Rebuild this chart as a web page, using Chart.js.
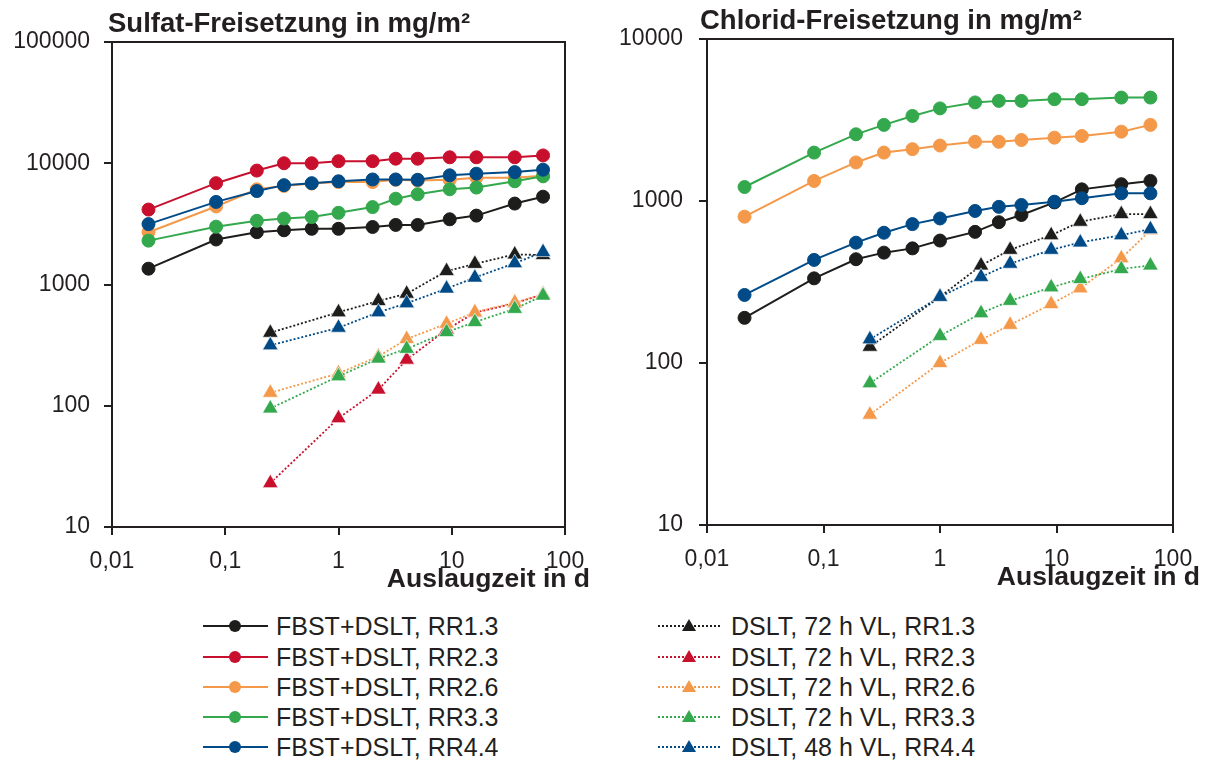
<!DOCTYPE html>
<html>
<head>
<meta charset="utf-8">
<script src="https://cdn.jsdelivr.net/npm/chart.js@4.4.1/dist/chart.umd.min.js"></script>
<style>
    body { margin: 0; background: #fff; font-family: "Liberation Sans", Arial, sans-serif; color: #231f20; }
    #page { position: relative; width: 1209px; height: 760px; overflow: hidden; }
    canvas { position: absolute; top: 0; }
    .title { position: absolute; font-weight: bold; font-size: 27.5px; line-height: 1; white-space: nowrap; }
    .xtitle { position: absolute; font-weight: bold; font-size: 26.5px; line-height: 1; white-space: nowrap; text-align: right; }
    .leg { position: absolute; height: 24px; }
    .leg .line { position: absolute; top: 11px; height: 0; }
    .leg .dot { position: absolute; top: 6px; width: 12px; height: 12px; border-radius: 50%; }
    .leg .tri { position: absolute; top: 5px; width: 0; height: 0; border-left: 7px solid transparent; border-right: 7px solid transparent; }
    .leg .txt { position: absolute; top: 0; font-size: 25px; line-height: 24px; white-space: nowrap; }
</style>
</head>
<body>
<div id="page">
    <canvas id="sulfat" width="600" height="600" style="left:0"></canvas>
    <canvas id="chlorid" width="609" height="600" style="left:600px"></canvas>
    <div class="title" style="left:108px;top:9px">Sulfat-Freisetzung in mg/m²</div>
    <div class="title" style="left:700px;top:6px">Chlorid-Freisetzung in mg/m²</div>
    <div class="xtitle" style="right:619px;top:565px">Auslaugzeit in d</div>
    <div class="xtitle" style="right:9px;top:563px">Auslaugzeit in d</div>
    <div id="legend"></div>
</div>
<script>
// time axis (days)
const tFbst = [0.021, 0.083, 0.19, 0.33, 0.58, 1, 2, 3.2, 5, 9.6, 16.5, 36, 64];
const tDslt = [0.25, 1, 2.25, 4, 9, 16, 36, 64];

const xTicks = [0.01, 0.1, 1, 10, 100];
const ySulfatTicks = [10, 100, 1000, 10000, 100000];
const yChloridTicks = [10, 100, 1000, 10000];

const labelsFbst = ['FBST+DSLT, RR1.3', 'FBST+DSLT, RR2.3', 'FBST+DSLT, RR2.6', 'FBST+DSLT, RR3.3', 'FBST+DSLT, RR4.4'];
const labelsDslt = ['DSLT, 72 h VL, RR1.3', 'DSLT, 72 h VL, RR2.3', 'DSLT, 72 h VL, RR2.6', 'DSLT, 72 h VL, RR3.3', 'DSLT, 48 h VL, RR4.4'];
const colors = ['#1d1d1b', '#c8102e', '#f4994a', '#33a84d', '#004b87'];

// Sulfat, mg/m²
const sulfatFbst13 = [1350, 2350, 2700, 2800, 2880, 2880, 2980, 3100, 3100, 3450, 3700, 4650, 5300];
const sulfatFbst23 = [4150, 6850, 8700, 10000, 10000, 10400, 10400, 10900, 10900, 11200, 11200, 11200, 11600];
const sulfatFbst26 = [2700, 4400, 6100, 6500, 6800, 7000, 7000, 7300, 7200, 7300, 7600, 7600, 7900];
const sulfatFbst33 = [2300, 3000, 3350, 3500, 3600, 3900, 4350, 5100, 5550, 6100, 6300, 7100, 7800];
const sulfatFbst44 = [3150, 4800, 5900, 6600, 6850, 7100, 7350, 7350, 7300, 7950, 8200, 8450, 8850];
const sulfatDslt13 = [400, 590, 730, 840, 1290, 1480, 1770, 1750];
const sulfatDslt23 = [23, 79, 136, 240, 425, 585, 700, 830];
const sulfatDslt26 = [128, 185, 255, 355, 475, 590, 710, 825];
const sulfatDslt33 = [95, 175, 245, 295, 405, 490, 630, 810];
const sulfatDslt44 = [315, 440, 590, 700, 925, 1140, 1500, 1850];

// Chlorid, mg/m²
const chloridFbst13 = [190, 333, 437, 480, 510, 570, 645, 740, 820, 980, 1180, 1270, 1330];
const chloridFbst26 = [800, 1330, 1730, 1990, 2090, 2200, 2320, 2320, 2380, 2460, 2520, 2680, 2950];
const chloridFbst33 = [1220, 1990, 2580, 2950, 3350, 3730, 4060, 4150, 4150, 4250, 4250, 4350, 4350];
const chloridFbst44 = [263, 433, 553, 637, 720, 780, 868, 920, 945, 990, 1040, 1115, 1115];
const chloridDslt13 = [126, 256, 400, 500, 615, 745, 830, 830];
const chloridDslt26 = [48, 100, 139, 172, 231, 289, 443, 660];
const chloridDslt33 = [75, 147, 203, 242, 293, 330, 380, 400];
const chloridDslt44 = [140, 256, 340, 410, 500, 555, 615, 670];

const ink = '#231f20';
Chart.defaults.font.family = '"Liberation Sans", Arial, sans-serif';
Chart.defaults.color = ink;

const pts = (xs, ys) => xs.map((x, i) => ({ x, y: ys[i] }));

function fbst(ys, c, order) {
    return {
        data: pts(tFbst, ys), borderColor: colors[c], backgroundColor: colors[c],
        borderWidth: 2, tension: 0, pointStyle: 'circle', pointRadius: 6.5,
        pointBorderColor: colors[c], pointBorderWidth: 1, order
    };
}
function dslt(ys, c, order) {
    return {
        data: pts(tDslt, ys), borderColor: colors[c], backgroundColor: colors[c],
        borderWidth: 1.8, borderDash: [2, 2], tension: 0, pointStyle: 'triangle', pointRadius: 9,
        pointBorderColor: 'rgba(255,255,255,0.8)', pointBorderWidth: 0.8, order
    };
}

// top and right edges of the plot frame
const frame = {
    id: 'frame',
    afterDraw(chart) {
        const { ctx, chartArea: a } = chart;
        ctx.save();
        ctx.strokeStyle = ink;
        ctx.lineWidth = 2;
        ctx.beginPath();
        ctx.moveTo(a.left, a.top);
        ctx.lineTo(a.right, a.top);
        ctx.lineTo(a.right, a.bottom);
        ctx.stroke();
        ctx.restore();
    }
};

function makeChart(id, datasets, yTicks, pad, yWidth, xHeight, yPad) {
    return new Chart(document.getElementById(id), {
        type: 'line',
        data: { datasets },
        options: {
            responsive: false, animation: false,
            layout: { padding: pad },
            plugins: { legend: { display: false }, tooltip: { enabled: false } },
            scales: {
                x: {
                    type: 'logarithmic', min: 0.01, max: 100,
                    afterBuildTicks: s => { s.ticks = xTicks.map(v => ({ value: v })); },
                    afterFit: s => { s.height = xHeight; },
                    ticks: { font: { size: 23 }, padding: 13, maxRotation: 0, callback: v => String(v).replace('.', ',') },
                    grid: { drawOnChartArea: false, tickLength: 8, color: ink, lineWidth: 2 },
                    border: { color: ink, width: 2 }
                },
                y: {
                    type: 'logarithmic', min: yTicks[0], max: yTicks[yTicks.length - 1],
                    afterBuildTicks: s => { s.ticks = yTicks.map(v => ({ value: v })); },
                    afterFit: s => { s.width = yWidth; },
                    ticks: { font: { size: 23 }, padding: yPad, callback: v => String(v) },
                    grid: { drawOnChartArea: false, tickLength: 8, color: ink, lineWidth: 2 },
                    border: { color: ink, width: 2 }
                }
            }
        },
        plugins: [frame]
    });
}

makeChart('sulfat', [
    fbst(sulfatFbst13, 0, 10), fbst(sulfatFbst23, 1, 9), fbst(sulfatFbst26, 2, 8),
    fbst(sulfatFbst33, 3, 7), fbst(sulfatFbst44, 4, 6),
    dslt(sulfatDslt13, 0, 5), dslt(sulfatDslt23, 1, 4), dslt(sulfatDslt26, 2, 3),
    dslt(sulfatDslt33, 3, 2), dslt(sulfatDslt44, 4, 1)
], ySulfatTicks, { top: 42, right: 35, left: 0, bottom: 0 }, 112, 73, 14);

makeChart('chlorid', [
    fbst(chloridFbst13, 0, 10), fbst(chloridFbst26, 2, 8),
    fbst(chloridFbst33, 3, 7), fbst(chloridFbst44, 4, 6),
    dslt(chloridDslt13, 0, 5), dslt(chloridDslt26, 2, 3),
    dslt(chloridDslt33, 3, 2), dslt(chloridDslt44, 4, 1)
], yChloridTicks, { top: 39, right: 36, left: 0, bottom: 0 }, 107, 75, 16);

// shared legend below both plots
const rowY = [626, 657, 687, 717, 747];
const legend = document.getElementById('legend');
legend.innerHTML = colors.map((c, i) => `
    <div class="leg" style="left:203px;top:${rowY[i] - 12}px">
        <div class="line" style="left:0;width:65px;border-top:2px solid ${c}"></div>
        <div class="dot" style="left:26px;background:${c}"></div>
        <div class="txt" style="left:73px">${labelsFbst[i]}</div>
    </div>
    <div class="leg" style="left:658px;top:${rowY[i] - 12}px">
        <div class="line" style="left:0;width:62px;border-top:2px dotted ${c}"></div>
        <div class="tri" style="left:24px;border-bottom:12px solid ${c}"></div>
        <div class="txt" style="left:73px">${labelsDslt[i]}</div>
    </div>`).join('');
</script>
</body>
</html>
